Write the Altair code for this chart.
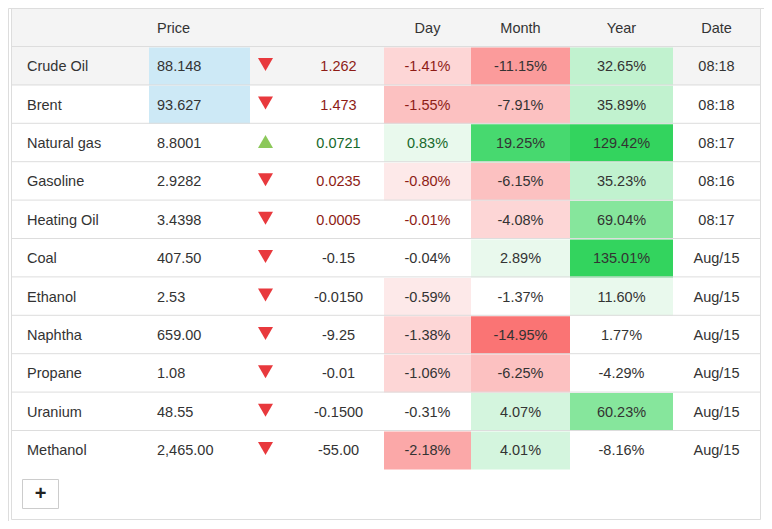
import altair as alt
import pandas as pd

# ---------------- data ----------------
names = ["Crude Oil", "Brent", "Natural gas", "Gasoline", "Heating Oil", "Coal",
         "Ethanol", "Naphtha", "Propane", "Uranium", "Methanol"]
prices = ["88.148", "93.627", "8.8001", "2.9282", "3.4398", "407.50", "2.53",
          "659.00", "1.08", "48.55", "2,465.00"]
directions = ["down", "down", "up", "down", "down", "down", "down", "down",
              "down", "down", "down"]
changes = ["1.262", "1.473", "0.0721", "0.0235", "0.0005", "-0.15", "-0.0150",
           "-9.25", "-0.01", "-0.1500", "-55.00"]
day_pct = [-1.41, -1.55, 0.83, -0.80, -0.01, -0.04, -0.59, -1.38, -1.06, -0.31, -2.18]
month_pct = [-11.15, -7.91, 19.25, -6.15, -4.08, 2.89, -1.37, -14.95, -6.25, 4.07, 4.01]
year_pct = [32.65, 35.89, 129.42, 35.23, 69.04, 135.01, 11.60, 1.77, -4.29, 60.23, -8.16]
dates = ["08:18", "08:18", "08:17", "08:16", "08:17", "Aug/15", "Aug/15", "Aug/15",
         "Aug/15", "Aug/15", "Aug/15"]
price_ticked = [True, True, False, False, False, False, False, False, False, False, False]
hover_row = 0
header_labels = {"price": "Price", "day": "Day", "month": "Month", "year": "Year", "date": "Date"}

# ---------------- styles / layout ----------------
FONT = "Liberation Sans"
FS = 14.5
TXT = "#333333"
LINE = "#dddddd"
HEAD_BG = "#f4f4f4"
HOVER_BG = "#f4f4f4"
PRICE_BG = "#cde9f6"
FLASH = {"down": "#8e1c16", "up": "#17692b"}
ARROW = {"down": "#e8393d", "up": "#8cc85a"}
REDS = ["#fde9e9", "#fdd6d6", "#fcc1c1", "#fba8a8", "#fb9b9b", "#fa7474", "#f85050"]
GREENS = ["#e9f9ed", "#d4f5de", "#c1f2cf", "#a5eeb6", "#86e69c", "#47d96f", "#33d45e"]
THRESH = {"day": [0.5, 1.0, 1.5, 2.0, 3.0, 4.0, 5.0],
          "month": [2, 4, 6, 9, 11, 14, 25],
          "year": [10, 20, 30, 45, 55, 90, 120]}

W, H = 756, 513
BOX = (11.5, 760.5, 8.5, 519.5)
HEAD = (9, 47)
ROW_T0, ROW_H = 47, 38.4
COLS = {"name": (12, 149), "price": (149, 250), "arrow": (250, 293), "change": (293, 384),
        "day": (384, 471), "month": (471, 570), "year": (570, 673), "date": (673, 760)}
LEFT_PAD = {"name": 15, "price": 8}


def level(v, col):
    n = 0
    for t in THRESH[col]:
        if abs(v) >= t:
            n += 1
    return n


def heat(v, col):
    n = level(v, col)
    if n == 0:
        return None
    return (GREENS if v > 0 else REDS)[n - 1]


def row_top(i):
    return ROW_T0 + ROW_H * i


# ---------------- tables built from data ----------------
rects = [{"x": BOX[0], "x2": BOX[1], "y": HEAD[0], "y2": HEAD[1], "fill": HEAD_BG},
         {"x": COLS["name"][0], "x2": COLS["date"][1], "y": row_top(hover_row),
          "y2": row_top(hover_row + 1), "fill": HOVER_BG}]
texts = []
arrows = []
for i, nm in enumerate(names):
    t, b = row_top(i), row_top(i + 1)
    yc = (t + b) / 2
    if price_ticked[i]:
        rects.append({"x": COLS["price"][0], "x2": COLS["price"][1], "y": t + 0.5, "y2": b, "fill": PRICE_BG})
    pct = {"day": day_pct[i], "month": month_pct[i], "year": year_pct[i]}
    for col, v in pct.items():
        c = heat(v, col)
        if c:
            rects.append({"x": COLS[col][0], "x2": COLS[col][1], "y": t + 0.5, "y2": b, "fill": c})
    fresh = ":" in dates[i]
    flash = FLASH[directions[i]] if fresh else TXT
    cells = {"name": nm, "price": prices[i], "change": changes[i],
             "day": f"{day_pct[i]:.2f}%", "month": f"{month_pct[i]:.2f}%",
             "year": f"{year_pct[i]:.2f}%", "date": dates[i]}
    for col, s in cells.items():
        if col in LEFT_PAD:
            x, al = COLS[col][0] + LEFT_PAD[col], "left"
        else:
            x, al = (COLS[col][0] + COLS[col][1]) / 2, "center"
        color = flash if col in ("change", "day") else TXT
        texts.append({"x": x, "y": yc, "text": s, "align": al, "color": color, "weight": "normal"})
    arrows.append({"x": (COLS["arrow"][0] + COLS["arrow"][1]) / 2 - 6, "y": yc - 1.6,
                   "dir": directions[i], "shape": "triangle-" + directions[i],
                   "color": ARROW[directions[i]]})

for col, s in header_labels.items():
    if col in LEFT_PAD:
        x, al = COLS[col][0] + LEFT_PAD[col], "left"
    else:
        x, al = (COLS[col][0] + COLS[col][1]) / 2, "center"
    texts.append({"x": x, "y": (HEAD[0] + HEAD[1]) / 2, "text": s, "align": al, "color": TXT,
                  "weight": "normal"})

lines = [{"x": COLS["name"][0], "x2": COLS["date"][1], "y": row_top(i) - 0.5} for i in range(len(names))]
box = [{"x": BOX[0], "x2": BOX[1], "y": BOX[2], "y2": BOX[3]}]
button = [{"x": 22.5, "x2": 58.5, "y": 479.5, "y2": 508.5, "text": "+"}]

rect_df = pd.DataFrame(rects)
text_df = pd.DataFrame(texts)
arrow_df = pd.DataFrame(arrows)
line_df = pd.DataFrame(lines)
box_df = pd.DataFrame(box)
btn_df = pd.DataFrame(button)

xs = alt.Scale(domain=[8, 8 + W], nice=False, zero=False)
ys = alt.Scale(domain=[8, 8 + H], nice=False, zero=False, reverse=True)


def X(f="x"):
    return alt.X(f"{f}:Q", scale=xs, axis=None)


def Y(f="y"):
    return alt.Y(f"{f}:Q", scale=ys, axis=None)


bg = alt.Chart(rect_df).mark_rect(strokeWidth=0).encode(
    x=X(), x2="x2:Q", y=Y(), y2="y2:Q", fill=alt.Fill("fill:N", scale=None))

rules = alt.Chart(line_df).mark_rule(color=LINE, strokeWidth=1).encode(
    x=X(), x2="x2:Q", y=Y())

border = alt.Chart(box_df).mark_rect(fillOpacity=0, stroke=LINE, strokeWidth=1).encode(
    x=X(), x2="x2:Q", y=Y(), y2="y2:Q")

txt_left = alt.Chart(text_df).transform_filter(alt.datum.align == "left").mark_text(
    align="left", baseline="middle", font=FONT, fontSize=FS, dy=1).encode(
    x=X(), y=Y(), text="text:N", color=alt.Color("color:N", scale=None))
txt_center = alt.Chart(text_df).transform_filter(alt.datum.align == "center").mark_text(
    align="center", baseline="middle", font=FONT, fontSize=FS, dy=1).encode(
    x=X(), y=Y(), text="text:N", color=alt.Color("color:N", scale=None))

arrow_down = alt.Chart(arrow_df).transform_filter(alt.datum.dir == "down").mark_point(
    shape="triangle-down", filled=True, size=225, opacity=1, strokeWidth=0).encode(
    x=X(), y=Y(), color=alt.Color("color:N", scale=None))
arrow_up = alt.Chart(arrow_df).transform_filter(alt.datum.dir == "up").mark_point(
    shape="triangle-up", filled=True, size=225, opacity=1, strokeWidth=0).encode(
    x=X(), y=Y(), color=alt.Color("color:N", scale=None))

btn_box = alt.Chart(btn_df).mark_rect(fill="white", stroke="#cccccc", strokeWidth=1).encode(
    x=X(), x2="x2:Q", y=Y(), y2="y2:Q")
btn_txt = alt.Chart(btn_df).transform_calculate(
    xc="(datum.x + datum.x2) / 2", yc="(datum.y + datum.y2) / 2").mark_text(
    align="center", baseline="middle", font=FONT, fontSize=20, fontWeight="bold", color="#222222").encode(
    x=X("xc"), y=Y("yc"), text="text:N")

chart = alt.layer(bg, rules, border, txt_left, txt_center, arrow_down, arrow_up, btn_box, btn_txt).properties(
    width=W, height=H, padding=0, autosize=alt.AutoSizeParams(type="none")
).configure_view(stroke=None).configure(background="white")

chart.save("out.html", embed_options={"renderer": "svg", "actions": False})
